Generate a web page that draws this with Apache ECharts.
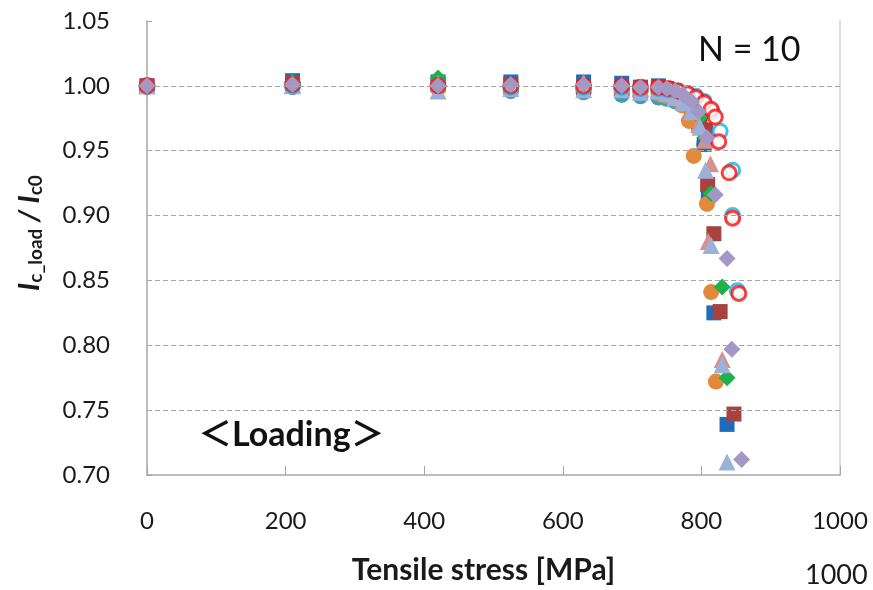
<!DOCTYPE html>
<html>
<head>
<meta charset="utf-8">
<script src="https://cdn.jsdelivr.net/npm/echarts@6/dist/echarts.min.js"></script>
<style>
  html, body { margin: 0; padding: 0; background: #fff; }
  #chart { width: 873px; height: 590px; }
</style>
</head>
<body>
<div id="chart"></div>
<script>
// axis ticks
var xTicks = [0, 200, 400, 600, 800, 1000];
var yTicks = [0.70, 0.75, 0.80, 0.85, 0.90, 0.95, 1.00, 1.05];
var gridLevels = [0.75, 0.80, 0.85, 0.90, 0.95, 1.00];

// [tensile stress MPa, Ic_load/Ic0] per sample
var tealCircle = [[0,0.999],[210,0.999],[420,0.998],[525,0.996],[630,0.995],[685,0.993],[712,0.992],[738,0.991],[750,0.990],[762,0.988],[774,0.985],[786,0.978],[796,0.968],[804,0.955]];
var blueSquare = [[0,1.000],[210,1.004],[420,1.003],[525,1.003],[630,1.003],[685,1.002],[712,0.999],[738,1.000],[750,0.998],[762,0.996],[774,0.993],[786,0.988],[796,0.978],[804,0.955],[810,0.916],[818,0.825],[837,0.739]];
var brownSquare = [[0,1.000],[210,1.002],[420,1.001],[525,1.001],[630,0.999],[685,0.998],[712,0.998],[738,0.999],[752,0.997],[764,0.995],[776,0.991],[788,0.985],[798,0.975],[806,0.966],[809,0.924],[818,0.886],[827,0.826],[847,0.747]];
var orangeCircle = [[0,1.000],[210,1.001],[420,0.998],[525,1.000],[630,0.998],[685,0.997],[712,0.995],[738,0.994],[750,0.992],[762,0.990],[772,0.985],[782,0.973],[789,0.946],[808,0.909],[814,0.841],[821,0.772]];
var greenDiamond = [[0,1.000],[210,1.003],[420,1.006],[525,1.000],[630,1.000],[685,0.998],[712,0.996],[738,0.998],[750,0.995],[762,0.992],[774,0.988],[786,0.982],[798,0.976],[806,0.960],[814,0.917],[830,0.845],[837,0.775]];
var pinkTriangle = [[0,1.000],[210,1.001],[420,1.002],[525,1.000],[630,1.003],[685,1.001],[712,0.998],[738,0.997],[750,0.995],[762,0.993],[774,0.990],[786,0.983],[796,0.970],[805,0.958],[813,0.940],[810,0.880],[830,0.789]];
var lavenderTriangle = [[0,1.000],[210,1.000],[420,0.996],[525,0.998],[630,0.997],[685,0.997],[712,0.995],[738,0.996],[750,0.994],[762,0.991],[774,0.987],[786,0.980],[798,0.968],[806,0.935],[814,0.877],[830,0.785],[837,0.710]];
var cyanRing = [[0,1.000],[210,1.000],[420,1.000],[525,0.999],[630,0.999],[685,0.999],[712,0.998],[738,0.998],[752,0.997],[766,0.996],[780,0.994],[792,0.992],[804,0.988],[816,0.980],[827,0.965],[845,0.935],[845,0.900],[852,0.842]];
var redRing = [[0,1.000],[210,1.001],[420,1.000],[525,1.000],[630,1.000],[685,1.000],[712,0.999],[738,0.999],[752,0.998],[766,0.996],[780,0.994],[792,0.991],[804,0.987],[814,0.982],[820,0.976],[825,0.957],[840,0.933],[845,0.898],[854,0.840]];
var purpleDiamond = [[0,1.000],[210,1.001],[420,1.000],[525,1.001],[630,1.001],[685,1.000],[712,0.999],[738,0.999],[750,0.998],[762,0.996],[774,0.993],[786,0.988],[796,0.980],[808,0.960],[820,0.916],[837,0.867],[844,0.797],[858,0.712]];

var fontMain = 'Lato, "Open Sans", sans-serif';

function dots(name, data, symbol, color, size, ring) {
    return {
        name: name,
        type: 'scatter',
        data: data,
        symbol: symbol,
        symbolSize: size,
        itemStyle: ring
            ? { color: '#ffffff', borderColor: color, borderWidth: 3 }
            : { color: color, opacity: 1 },
        z: 3
    };
}

var series = [
    dots('teal', tealCircle, 'circle', '#3f9db7', 16),
    dots('blue', blueSquare, 'rect', '#1f6cbb', 15),
    dots('brown', brownSquare, 'rect', '#a8423f', 15),
    dots('orange', orangeCircle, 'circle', '#e2893c', 16),
    dots('green', greenDiamond, 'diamond', '#1fb24a', 17),
    dots('pink', pinkTriangle, 'triangle', '#d5918e', 17),
    dots('lavender', lavenderTriangle, 'triangle', '#9db1d8', 17),
    dots('cyan', cyanRing, 'circle', '#17b0e8', 14, true),
    dots('red', redRing, 'circle', '#ff0d0d', 14, true),
    dots('purple', purpleDiamond, 'diamond', '#a397c6', 17)
];

// dashed gridlines (not at 0.70 / 1.05)
series.push({
    type: 'line',
    data: [],
    silent: true,
    markLine: {
        symbol: 'none',
        silent: true,
        label: { show: false },
        lineStyle: { color: '#a6a6a6', type: [5, 3], width: 1 },
        data: gridLevels.map(function (v) { return { yAxis: v }; })
    },
    z: 1
});

var option = {
    backgroundColor: '#ffffff',
    animation: false,
    grid: { left: 147, right: 33, top: 21, bottom: 111 },
    xAxis: {
        type: 'value',
        min: xTicks[0],
        max: xTicks[xTicks.length - 1],
        interval: 200,
        name: 'Tensile stress [MPa]',
        nameLocation: 'middle',
        nameGap: 80,
        nameTextStyle: { fontFamily: fontMain, fontWeight: 'bold', fontSize: 30, color: '#1a1a1a', padding: [0, 20, 0, 0] },
        axisLine: { lineStyle: { color: '#a6a6a6', width: 1.5 } },
        axisTick: { inside: true, length: 9, lineStyle: { color: '#a6a6a6' } },
        axisLabel: {
            margin: 34, fontFamily: fontMain, fontSize: 24, color: '#1a1a1a',
            formatter: function (v) { return String(v); }
        },
        splitLine: { show: false }
    },
    yAxis: [{
        type: 'value',
        min: yTicks[0],
        max: yTicks[yTicks.length - 1],
        interval: 0.05,
        name: '{i|I}{s|c_load}{i| / I}{s|c0}',
        nameLocation: 'middle',
        nameGap: 102,
        nameTextStyle: {
            padding: [0, 0, 0, 30],
            rich: {
                i: { fontFamily: fontMain, fontStyle: 'italic', fontWeight: 'bold', fontSize: 29, color: '#1a1a1a' },
                s: { fontFamily: fontMain, fontWeight: 'bold', fontSize: 19, color: '#1a1a1a', verticalAlign: 'bottom', padding: [11, 0, 0, 0] }
            }
        },
        axisLine: { show: true, lineStyle: { color: '#a6a6a6', width: 1.5 } },
        axisTick: { show: true, inside: true, length: 5, lineStyle: { color: '#a6a6a6' } },
        axisLabel: {
            margin: 37,
            fontFamily: fontMain, fontSize: 24, color: '#1a1a1a',
            formatter: function (v) { return v.toFixed(2); }
        },
        splitLine: { show: false }
    }, {
        type: 'value',
        position: 'right',
        min: yTicks[0],
        max: yTicks[yTicks.length - 1],
        axisLine: { show: true, lineStyle: { color: '#d0d0d0', width: 1.5 } },
        axisTick: { show: false },
        axisLabel: { show: false },
        splitLine: { show: false }
    }],
    graphic: [
        { type: 'text', left: 698, top: 33, style: { text: 'N = 10', font: '34px ' + fontMain, fill: '#111' } },
        { type: 'text', left: 198, top: 418, style: { text: '＜Loading＞', font: 'bold 34px Lato, "Noto Sans CJK JP", sans-serif', fill: '#111' } },
        { type: 'text', left: 805, top: 562, style: { text: '1000', font: '27px ' + fontMain, fill: '#1a1a1a' } }
    ],
    series: series
};

var myChart = echarts.init(document.getElementById('chart'));
myChart.setOption(option);
</script>
</body>
</html>
